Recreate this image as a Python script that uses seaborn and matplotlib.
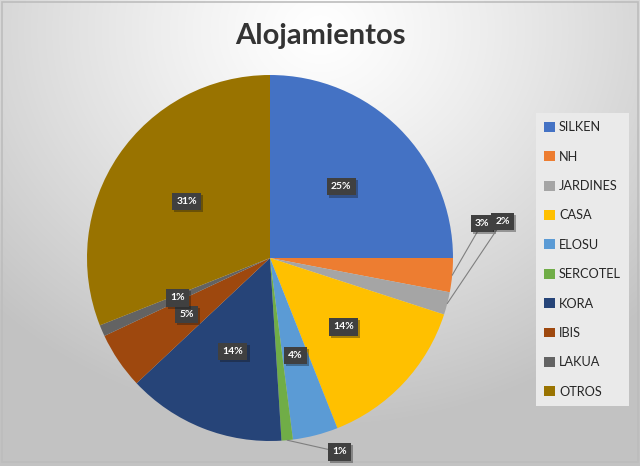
import numpy as np
import matplotlib.pyplot as plt
import seaborn as sns
from matplotlib.colors import LinearSegmentedColormap
from matplotlib.patches import Rectangle
import matplotlib.patheffects as pe

hoteles = ['SILKEN', 'NH', 'JARDINES', 'CASA', 'ELOSU', 'SERCOTEL', 'KORA', 'IBIS', 'LAKUA', 'OTROS']
porcentajes = [25, 3, 2, 14, 4, 1, 14, 5, 1, 31]
colores = ['#4472C4', '#ED7D31', '#A5A5A5', '#FFC000', '#5B9BD5',
           '#70AD47', '#264478', '#9E480E', '#636363', '#997300']

# etiquetas fuera de la tarta (posicion en unidades del radio)
fuera = {'NH': (1.16, 0.19), 'JARDINES': (1.27, 0.20), 'SERCOTEL': (0.38, -1.06)}

sns.set_theme(style='white')
plt.rcParams['font.family'] = ['Lato', 'DejaVu Sans']

W, H = 640, 466
fig = plt.figure(figsize=(W / 100, H / 100), dpi=100)

# fondo con degradado radial
bg = fig.add_axes([0, 0, 1, 1])
yy, xx = np.mgrid[0:H, 0:W]
dist = np.hypot(xx - 320, (yy - 30) * 1.15)
grad = np.clip(dist / 460, 0, 1) ** 1.2
cmap = LinearSegmentedColormap.from_list('fondo', ['#ffffff', '#c2c2c2'])
bg.imshow(grad, cmap=cmap, extent=(0, W, H, 0), aspect='auto')
bg.add_patch(Rectangle((2, 2), W - 4, H - 6, fill=False, ec='#bdbdbd', lw=1.2))
bg.set_xlim(0, W)
bg.set_ylim(H, 0)
bg.axis('off')

# tarta: centro (270, 258) px, radio 183 px
cx, cy, r = 270, 258, 183
x0, x1, y0, y1 = 20, 520, 40, 460
ax = fig.add_axes([x0 / W, 1 - y1 / H, (x1 - x0) / W, (y1 - y0) / H])
wedges, _ = ax.pie(porcentajes, colors=colores, startangle=90, counterclock=False,
                   wedgeprops=dict(linewidth=0))
ax.set_aspect('auto')
ax.set_xlim((x0 - cx) / r, (x1 - cx) / r)
ax.set_ylim((cy - y1) / r, (cy - y0) / r)
ax.axis('off')

caja = dict(boxstyle='square,pad=0.4', fc='#404040', ec='none')
sombra = [pe.SimplePatchShadow(offset=(1.5, -1.5), alpha=0.35), pe.Normal()]
for w, nombre, p in zip(wedges, hoteles, porcentajes):
    ang = np.deg2rad((w.theta1 + w.theta2) / 2)
    txt = f'{p}%'
    if nombre in fuera:
        t = ax.annotate(txt, xy=(np.cos(ang), np.sin(ang)), xytext=fuera[nombre],
                        ha='center', va='center', fontsize=7.5, fontweight='bold',
                        color='white', bbox=caja,
                        arrowprops=dict(arrowstyle='-', color='#7f7f7f', lw=0.8,
                                        shrinkA=0, shrinkB=0))
    else:
        t = ax.text(0.55 * np.cos(ang), 0.55 * np.sin(ang), txt, ha='center', va='center',
                    fontsize=7.5, fontweight='bold', color='white', bbox=caja)
    t.get_bbox_patch().set_path_effects(sombra)

fig.text(0.5, 1 - 36 / H, 'Alojamientos', ha='center', va='center',
         fontsize=21, fontweight='bold', color='#333333')

leg = fig.legend(wedges, hoteles, loc='upper left', bbox_to_anchor=(536 / W, 1 - 113 / H),
                 frameon=True, facecolor='#eaeaea', edgecolor='none', framealpha=1,
                 fontsize=9.2, handlelength=0.8, handleheight=0.8, handletextpad=0.35,
                 labelspacing=1.36, borderpad=0.65, borderaxespad=0, fancybox=False)
for tx in leg.get_texts():
    tx.set_color('#262626')

fig.savefig('out.png', dpi=100)
